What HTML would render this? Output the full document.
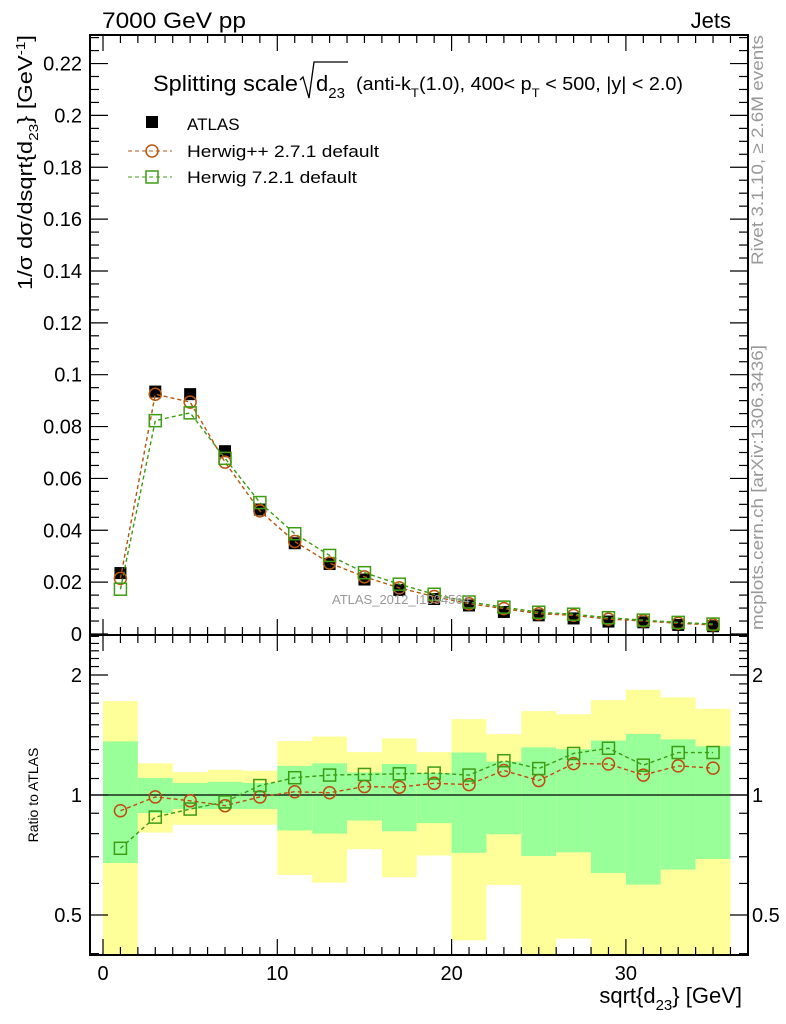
<!DOCTYPE html>
<html><head><meta charset="utf-8"><style>
body{margin:0;background:#fff}
svg{display:block;font-family:"Liberation Sans",sans-serif}
</style></head><body>
<svg id="c" width="786" height="1024" viewBox="0 0 786 1024" xmlns="http://www.w3.org/2000/svg">
<g id="bands"></g>
<g id="axes"></g>
<g id="series"></g>
<text x="102" y="28" font-size="22" textLength="144" lengthAdjust="spacingAndGlyphs">7000 GeV pp</text>
<text x="731" y="28" font-size="22" text-anchor="end">Jets</text>
<text x="153" y="91" font-size="22" textLength="145" lengthAdjust="spacingAndGlyphs">Splitting scale</text>
<path d="M300,80 L303,77 L309,98 L314,62 L348,62" fill="none" stroke="#000" stroke-width="1.3"/>
<text x="316" y="91" font-size="22">d<tspan font-size="15" dy="7">23</tspan></text>
<text x="356" y="90" font-size="18" textLength="327" lengthAdjust="spacingAndGlyphs">(anti-k<tspan font-size="12" dy="7">T</tspan><tspan dy="-7">(1.0), 400&lt; p</tspan><tspan font-size="12" dy="7">T</tspan><tspan dy="-7"> &lt; 500, |y| &lt; 2.0)</tspan></text>
<rect x="146" y="116" width="12" height="12" fill="#000"/>
<text x="187" y="130" font-size="17">ATLAS</text>
<line x1="128" y1="151" x2="172" y2="151" stroke="#b8560c" stroke-dasharray="4,3"/>
<circle cx="152" cy="151" r="6" fill="none" stroke="#b8560c" stroke-width="1.5"/>
<text x="187" y="157" font-size="17" textLength="192" lengthAdjust="spacingAndGlyphs">Herwig++ 2.7.1 default</text>
<line x1="128" y1="177" x2="172" y2="177" stroke="#3c9c12" stroke-dasharray="4,3"/>
<rect x="146" y="171" width="12" height="12" fill="none" stroke="#3c9c12" stroke-width="1.5"/>
<text x="187" y="183" font-size="17" textLength="170" lengthAdjust="spacingAndGlyphs">Herwig 7.2.1 default</text>
<text x="332" y="604" font-size="13" fill="#999">ATLAS_2012_I1094564</text>
<text transform="translate(763,265) rotate(-90)" font-size="17" fill="#999" textLength="230" lengthAdjust="spacingAndGlyphs">Rivet 3.1.10, ≥ 2.6M events</text>
<text transform="translate(763,630) rotate(-90)" font-size="17" fill="#999" textLength="285" lengthAdjust="spacingAndGlyphs">mcplots.cern.ch [arXiv:1306.3436]</text>
<text transform="translate(32,290) rotate(-90)" font-size="20" textLength="255" lengthAdjust="spacingAndGlyphs">1/σ dσ/dsqrt{d<tspan font-size="13" dy="6">23</tspan><tspan dy="-6">} [GeV</tspan><tspan font-size="13" dy="-7">-1</tspan><tspan dy="7">]</tspan></text>
<text transform="translate(38,795) rotate(-90)" font-size="14" text-anchor="middle">Ratio to ATLAS</text>
<text x="742" y="1003" font-size="22" text-anchor="end">sqrt{d<tspan font-size="15" dy="7">23</tspan><tspan dy="-7">} [GeV]</tspan></text>
</svg>
<script>
const xCenters=[1,3,5,7,9,11,13,15,17,19,21,23,25,27,29,31,33,35];
const atlas=[0.0235,0.0935,0.0925,0.0705,0.048,0.035,0.027,0.021,0.017,0.0135,0.011,0.0085,0.0072,0.006,0.0048,0.0045,0.0035,0.003];
const ratioHpp=[0.913,0.989,0.967,0.94,0.989,1.019,1.013,1.05,1.046,1.07,1.062,1.152,1.087,1.199,1.196,1.122,1.183,1.168];
const ratioH7=[0.735,0.88,0.922,0.961,1.056,1.105,1.122,1.126,1.13,1.135,1.122,1.219,1.165,1.271,1.31,1.188,1.278,1.278];
const yellowHi=[1.72,1.201,1.141,1.157,1.15,1.366,1.402,1.281,1.387,1.281,1.55,1.421,1.624,1.594,1.73,1.836,1.758,1.645];
const yellowLo=[0.3,0.805,0.842,0.842,0.842,0.63,0.603,0.731,0.622,0.705,0.432,0.595,0.3,0.436,0.3,0.3,0.3,0.3];
const greenHi=[1.363,1.103,1.072,1.079,1.072,1.183,1.201,1.139,1.196,1.135,1.278,1.213,1.317,1.303,1.37,1.423,1.379,1.325];
const greenLo=[0.675,0.901,0.922,0.922,0.922,0.815,0.80,0.863,0.811,0.85,0.716,0.797,0.703,0.718,0.637,0.596,0.65,0.691];
const xTicks=[0,10,20,30];
const yTicks=[0,0.02,0.04,0.06,0.08,0.1,0.12,0.14,0.16,0.18,0.2,0.22];
const rTicks=[0.5,1,2];

const L=90,R=748,T=35,M=635,B=955;
const X=v=>103+v*17.43;
const Y=v=>634-v*2593;
const RY=v=>795-120*Math.log2(v);
const NS='http://www.w3.org/2000/svg';
function mk(p,tag,a){const e=document.createElementNS(NS,tag);for(const k in a)e.setAttribute(k,a[k]);document.getElementById(p).appendChild(e);return e;}
const clipY=v=>Math.max(M,Math.min(B,v));
xCenters.forEach((c,i)=>{
  let e=mk('bands','rect',{x:X(c-1),y:clipY(RY(yellowHi[i])),width:X(c+1)-X(c-1),height:clipY(RY(yellowLo[i]))-clipY(RY(yellowHi[i])),fill:'#ffff99'});
  
  
  e=mk('bands','rect',{x:X(c-1),y:RY(greenHi[i]),width:X(c+1)-X(c-1),height:RY(greenLo[i])-RY(greenHi[i]),fill:'#99ff99'});
  
  
});
[[T,M],[M,B]].forEach(([a,b])=>{const e=mk('axes','rect',{x:L,y:a,width:R-L,height:b-a,fill:'none',stroke:'#000','stroke-width':2});

});
const one=mk('axes','line',{x1:L,x2:R,y1:RY(1),y2:RY(1),stroke:'#000','stroke-width':1.2});


for(let v=0;v<=37;v++){const maj=v%10==0,len=maj?16:8;
 [[T,1],[M,-1],[M,1],[B,-1]].forEach(([y0,d])=>{mk('axes','line',{x1:X(v),x2:X(v),y1:y0,y2:y0+d*len,stroke:'#000','stroke-width':1.2});});}
xTicks.forEach(v=>{const t=mk('axes','text',{x:X(v),y:980,'font-size':20,'text-anchor':'middle'});t.textContent=v;

});
for(let k=0;k<=46;k++){const v=k*0.005,maj=k%4==0,len=maj?18:9;if(Y(v)<T)break;
 mk('axes','line',{x1:L,x2:L+len,y1:Y(v),y2:Y(v),stroke:'#000','stroke-width':1.2});
 mk('axes','line',{x1:R,x2:R-len,y1:Y(v),y2:Y(v),stroke:'#000','stroke-width':1.2});}
yTicks.forEach(v=>{const t=mk('axes','text',{x:82,y:Y(v)+7,'font-size':20,'text-anchor':'end'});t.textContent=v;

});
[0.4,0.5,0.6,0.7,0.8,0.9,1,1.1,1.2,1.3,1.4,1.5,1.6,1.7,1.8,1.9,2,2.1,2.2,2.3,2.4,2.5].forEach(v=>{const maj=rTicks.includes(v),len=maj?18:9;const y=RY(v);if(y<M||y>B)return;
 mk('axes','line',{x1:L,x2:L+len,y1:y,y2:y,stroke:'#000','stroke-width':1.2});
 mk('axes','line',{x1:R,x2:R-len,y1:y,y2:y,stroke:'#000','stroke-width':1.2});});
rTicks.forEach(v=>{[[82,'end'],[752,'start']].forEach(([x,a])=>{const t=mk('axes','text',{x:x,y:RY(v)+7,'font-size':20,'text-anchor':a});t.textContent=v;

});});
const hpp=atlas.map((a,i)=>a*ratioHpp[i]), h7=atlas.map((a,i)=>a*ratioH7[i]);
function line(vals,fy,col,name){const e=mk('series','polyline',{points:xCenters.map((c,i)=>X(c)+','+fy(vals[i])).join(' '),fill:'none',stroke:col,'stroke-width':1.4,'stroke-dasharray':'4,3'});

}
function circles(vals,fy,col,name){xCenters.forEach((c,i)=>{const e=mk('series','circle',{cx:X(c),cy:fy(vals[i]),r:6,fill:'none',stroke:col,'stroke-width':1.5});

});}
function squares(vals,fy,col,name){xCenters.forEach((c,i)=>{const e=mk('series','rect',{x:X(c)-6,y:fy(vals[i])-6,width:12,height:12,fill:'none',stroke:col,'stroke-width':1.5});

});}
xCenters.forEach((c,i)=>{const e=mk('series','rect',{x:X(c)-6,y:Y(atlas[i])-6,width:12,height:12,fill:'#000'});

});
line(hpp,Y,'#b8560c','herwigpp-line');line(h7,Y,'#3c9c12','herwig7-line');
circles(hpp,Y,'#b8560c','herwigpp-point');squares(h7,Y,'#3c9c12','herwig7-point');
line(ratioHpp,RY,'#c04a10','herwigpp-ratio-line');line(ratioH7,RY,'#3c9c12','herwig7-ratio-line');
circles(ratioHpp,RY,'#c04a10','herwigpp-ratio-point');squares(ratioH7,RY,'#3c9c12','herwig7-ratio-point');
</script>
</body></html>
